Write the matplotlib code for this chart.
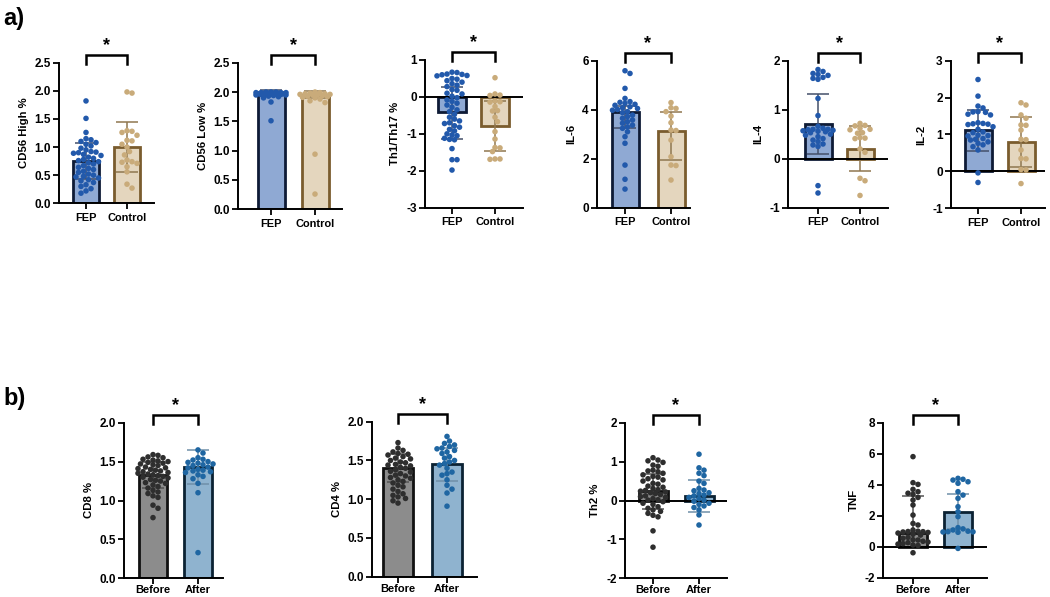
import numpy as np
import matplotlib
matplotlib.use("Agg")
import matplotlib.pyplot as plt
from matplotlib.transforms import blended_transform_factory

plt.rcParams['font.family'] = ['Liberation Sans', 'DejaVu Sans']
plt.rcParams['font.weight'] = 'bold'
plt.rcParams['axes.unicode_minus'] = False

# ---------------- data ----------------
cd56h_fep = [1.82, 1.51, 1.26, 1.15, 1.13, 1.10, 1.08, 1.05, 1.02, 0.98, 0.95, 0.92, 0.91, 0.90, 0.89,
             0.87, 0.85, 0.82, 0.80, 0.78, 0.76, 0.74, 0.72, 0.70, 0.67, 0.64, 0.62, 0.60, 0.57, 0.55,
             0.52, 0.50, 0.48, 0.47, 0.45, 0.42, 0.40, 0.37, 0.33, 0.30, 0.26, 0.22, 0.18]
cd56h_ctrl = [1.98, 1.96, 1.29, 1.28, 1.26, 1.21, 1.12, 1.11, 1.05, 1.00, 0.92, 0.86, 0.77, 0.74, 0.73,
              0.71, 0.65, 0.56, 0.34, 0.27]
cd56h_mean = [0.75, 1.00]
cd56h_err = [[0.32, 0.44], [0.32, 0.44]]

cd56l_fep = [2.00, 2.00, 2.00, 1.99, 1.99, 1.99, 1.99, 1.98, 1.98, 1.98, 1.98, 1.97, 1.97, 1.97, 1.97,
             1.96, 1.96, 1.96, 1.95, 1.95, 1.94, 1.93, 1.92, 1.90, 1.83, 1.51]
cd56l_ctrl = [2.00, 1.99, 1.98, 1.97, 1.97, 1.96, 1.96, 1.95, 1.95, 1.94, 1.93, 1.92, 1.91, 1.90, 1.88,
              1.85, 1.82, 0.94, 0.26]
cd56l_mean = [1.98, 1.95]
cd56l_err = [[0.05, 0.06], [0.05, 0.06]]

th1_fep = [0.67, 0.66, 0.62, 0.61, 0.60, 0.58, 0.57, 0.50, 0.48, 0.44, 0.40, 0.36, 0.32, 0.28, 0.20,
           0.18, 0.10, 0.08, 0.02, -0.02, -0.08, -0.12, -0.17, -0.22, -0.28, -0.35, -0.40, -0.47, -0.55,
           -0.60, -0.65, -0.70, -0.72, -0.78, -0.82, -0.88, -0.92, -1.00, -1.03, -1.05, -1.12, -1.15,
           -1.16, -1.40, -1.70, -1.70, -1.98]
th1_ctrl = [0.52, 0.08, 0.05, 0.04, -0.11, -0.13, -0.14, -0.26, -0.37, -0.38, -0.55, -0.67, -0.94,
            -1.14, -1.37, -1.38, -1.48, -1.68, -1.68, -1.69]
th1_mean = [-0.42, -0.78]
th1_err = [[0.73, 0.68], [0.70, 0.68]]

il6_fep = [5.59, 5.48, 4.87, 4.46, 4.33, 4.30, 4.26, 4.22, 4.18, 4.12, 4.08, 4.05, 4.01, 3.98, 3.92,
           3.88, 3.78, 3.72, 3.65, 3.58, 3.51, 3.45, 3.37, 3.30, 3.24, 3.10, 2.90, 2.63, 1.74, 1.16, 0.76]
il6_ctrl = [4.29, 4.08, 4.05, 3.92, 3.74, 3.47, 3.17, 3.15, 2.76, 2.08, 1.74, 1.72, 1.13]
il6_mean = [3.92, 3.12]
il6_err = [[0.65, 1.17], [0.25, 0.80]]

il4_fep = [1.82, 1.78, 1.74, 1.72, 1.70, 1.66, 1.64, 1.62, 1.23, 0.88, 0.66, 0.62, 0.60, 0.60, 0.59,
           0.58, 0.57, 0.56, 0.55, 0.53, 0.50, 0.48, 0.45, 0.41, 0.38, 0.35, 0.30, 0.28, 0.25, -0.55, -0.70]
il4_ctrl = [0.72, 0.68, 0.67, 0.62, 0.60, 0.59, 0.53, 0.52, 0.43, 0.42, 0.41, 0.20, 0.13, -0.40,
            -0.45, -0.75]
il4_mean = [0.71, 0.20]
il4_err = [[0.61, 0.46], [0.61, 0.46]]

il2_fep = [2.49, 2.04, 1.77, 1.72, 1.62, 1.61, 1.60, 1.55, 1.53, 1.32, 1.30, 1.29, 1.28, 1.27, 1.21,
           1.14, 1.07, 1.05, 0.98, 0.97, 0.96, 0.89, 0.87, 0.85, 0.80, 0.76, 0.72, 0.67, 0.58, -0.04, -0.30]
il2_ctrl = [1.86, 1.80, 1.53, 1.44, 1.26, 1.25, 1.12, 0.87, 0.86, 0.58, 0.35, 0.34, 0.05, 0.04, -0.33]
il2_mean = [1.11, 0.80]
il2_err = [[0.56, 0.67], [0.56, 0.67]]

cd8_before = [1.59, 1.58, 1.56, 1.55, 1.53, 1.52, 1.51, 1.50, 1.49, 1.48, 1.47, 1.46, 1.45, 1.43, 1.42,
              1.41, 1.40, 1.39, 1.38, 1.37, 1.36, 1.35, 1.34, 1.33, 1.32, 1.31, 1.30, 1.29, 1.27, 1.26,
              1.25, 1.23, 1.22, 1.20, 1.18, 1.16, 1.13, 1.11, 1.09, 1.06, 1.04, 0.94, 0.90, 0.78]
cd8_after = [1.65, 1.61, 1.55, 1.53, 1.52, 1.50, 1.49, 1.48, 1.47, 1.46, 1.45, 1.43, 1.42, 1.40, 1.39,
             1.38, 1.37, 1.36, 1.33, 1.31, 1.28, 1.22, 1.10, 0.33]
cd8_mean = [1.33, 1.43]
cd8_err = [[0.17, 0.22], [0.17, 0.22]]

cd4_before = [1.73, 1.66, 1.63, 1.61, 1.59, 1.58, 1.57, 1.55, 1.53, 1.52, 1.50, 1.48, 1.47, 1.45, 1.44,
              1.43, 1.41, 1.40, 1.38, 1.36, 1.35, 1.33, 1.31, 1.30, 1.28, 1.27, 1.25, 1.23, 1.21, 1.18,
              1.16, 1.13, 1.10, 1.07, 1.05, 1.03, 1.01, 0.98, 0.95]
cd4_after = [1.81, 1.75, 1.72, 1.70, 1.68, 1.66, 1.65, 1.63, 1.61, 1.59, 1.55, 1.53, 1.50, 1.48, 1.46,
             1.44, 1.40, 1.35, 1.33, 1.31, 1.25, 1.18, 1.13, 1.08, 0.91]
cd4_mean = [1.40, 1.45]
cd4_err = [[0.18, 0.21], [0.18, 0.21]]

th2_before = [1.10, 1.04, 1.02, 0.98, 0.91, 0.88, 0.78, 0.76, 0.74, 0.70, 0.66, 0.62, 0.60, 0.56, 0.53,
              0.50, 0.44, 0.42, 0.37, 0.34, 0.31, 0.28, 0.26, 0.24, 0.22, 0.20, 0.18, 0.15, 0.12, 0.10,
              0.08, 0.05, 0.02, 0.01, -0.03, -0.07, -0.10, -0.16, -0.20, -0.24, -0.28, -0.33, -0.38,
              -0.42, -0.78, -1.20]
th2_after = [1.19, 0.84, 0.78, 0.70, 0.64, 0.50, 0.44, 0.31, 0.27, 0.25, 0.20, 0.18, 0.14, 0.12, 0.08,
             0.05, 0.01, -0.02, -0.07, -0.10, -0.14, -0.18, -0.24, -0.37, -0.63]
th2_mean = [0.24, 0.11]
th2_err = [[0.45, 0.41], [0.45, 0.41]]

tnf_before = [5.81, 4.13, 4.02, 3.70, 3.55, 3.45, 3.38, 3.18, 3.01, 2.69, 2.04, 1.50, 1.40, 1.08, 1.00,
              0.98, 0.97, 0.95, 0.92, 0.88, 0.80, 0.75, 0.60, 0.54, 0.45, 0.43, 0.35, 0.30, 0.26, 0.20,
              0.17, 0.11, 0.08, -0.39]
tnf_after = [4.41, 4.35, 4.30, 4.19, 4.09, 3.55, 3.33, 3.12, 2.58, 2.26, 1.94, 1.23, 1.15, 1.08, 1.00,
             0.97, 0.96, 0.95, 0.93, -0.11]
tnf_mean = [0.90, 2.25]
tnf_err = [[0.9, 1.12], [2.37, 1.12]]

groups_a = ["FEP", "Control"]
groups_b = ["Before", "After"]

# ---------------- styles ----------------
sty_a = dict(fill=["#8fa9d3", "#e4d6be"], edge=["#0e1b36", "#7a5c2e"],
             dot=["#2259ab", "#c9ab7a"], err=["#44506a", "#8f7750"], xfs=7.9, xpad=3)
sty_b = dict(fill=["#8c8c8c", "#8fb3cf"], edge=["#111111", "#0b2233"],
             dot=["#2e2e2e", "#1f66a2"], err=["#555555", "#6f8fa8"], xfs=8.0, xpad=1)

W, H = 1050, 597
fig = plt.figure(figsize=(W / 100, H / 100), dpi=100)

# panel layout in pixels: left, right, top, bottom, center0, center1, barwidth
panels = [
    (cd56h_fep, cd56h_ctrl, cd56h_mean, cd56h_err, "CD56 High %", (0, 2.5), np.arange(0, 2.51, 0.5), "%.1f", groups_a, sty_a,
     (59, 154, 62.7, 203.3, 86, 127, 26), False),
    (cd56l_fep, cd56l_ctrl, cd56l_mean, cd56l_err, "CD56 Low %", (0, 2.5), np.arange(0, 2.51, 0.5), "%.1f", groups_a, sty_a,
     (238, 342, 62.7, 209.3, 271, 315, 27), False),
    (th1_fep, th1_ctrl, th1_mean, th1_err, "Th1/Th17 %", (-3, 1), np.arange(-3, 1.1, 1), "%d", groups_a, sty_a,
     (425, 523, 60.0, 207.7, 452, 495, 28), True),
    (il6_fep, il6_ctrl, il6_mean, il6_err, "IL-6", (0, 6), np.arange(0, 6.1, 2), "%d", groups_a, sty_a,
     (597, 690, 60.7, 207.7, 625, 671, 27), False),
    (il4_fep, il4_ctrl, il4_mean, il4_err, "IL-4", (-1, 2), np.arange(-1, 2.1, 1), "%d", groups_a, sty_a,
     (788, 888, 60.7, 207.7, 818, 860, 27), True),
    (il2_fep, il2_ctrl, il2_mean, il2_err, "IL-2", (-1, 3), np.arange(-1, 3.1, 1), "%d", groups_a, sty_a,
     (951, 1045, 60.7, 208.3, 978, 1021, 27), True),
    (cd8_before, cd8_after, cd8_mean, cd8_err, "CD8 %", (0, 2.0), np.arange(0, 2.01, 0.5), "%.1f", groups_b, sty_b,
     (124, 223, 422.7, 578.3, 153, 198, 28), False),
    (cd4_before, cd4_after, cd4_mean, cd4_err, "CD4 %", (0, 2.0), np.arange(0, 2.01, 0.5), "%.1f", groups_b, sty_b,
     (372, 477, 421.7, 576.7, 398, 447, 30), False),
    (th2_before, th2_after, th2_mean, th2_err, "Th2 %", (-2, 2), np.arange(-2, 2.1, 1), "%d", groups_b, sty_b,
     (625, 727, 422.7, 578.3, 653, 699, 29), True),
    (tnf_before, tnf_after, tnf_mean, tnf_err, "TNF", (-2, 8), np.arange(-2, 8.1, 2), "%d", groups_b, sty_b,
     (883, 987, 422.7, 577.7, 913, 958, 28), True),
]


def swarm_offsets(ax, xc, vals, dot_px, half_w_px):
    pts = ax.transData.transform(np.column_stack([np.full(len(vals), xc), vals]))
    ys = pts[:, 1]
    order = np.argsort(-np.asarray(vals))
    step = dot_px / 2.0
    n = int(half_w_px // step)
    cands = [0.0]
    for k in range(1, n + 1):
        cands += [k * step, -k * step]
    placed = []
    offs = np.zeros(len(vals))
    for i in order:
        best, best_d, best_c = None, -1, 0.0
        for c in cands:
            if placed:
                d = min(np.hypot(c - px, ys[i] - py) for px, py in placed)
            else:
                d = 1e9
            if d >= dot_px * 0.95:
                best = c
                break
            if d > best_d:
                best_d, best_c = d, c
        if best is None:
            best = best_c
        placed.append((best, ys[i]))
        offs[i] = best
    return offs


for (g0, g1, means, err, ylab, ylim, ticks, fmt, gnames, sty, lay, zero_line) in panels:
    L, R, T, B, c0, c1, bw = lay
    unit = c1 - c0
    ax = fig.add_axes([L / W, 1 - B / H, (R - L) / W, (B - T) / H])
    ax.set_xlim((L - c0) / unit, (R - c0) / unit)
    ax.set_ylim(*ylim)
    for s in ["top", "right"]:
        ax.spines[s].set_visible(False)
    for s in ["left", "bottom"]:
        ax.spines[s].set_linewidth(1.4)
        ax.spines[s].set_color("black")
    ax.set_yticks(ticks)
    ax.set_yticklabels([fmt % t for t in ticks])
    ax.set_xticks([0, 1])
    ax.set_xticklabels(gnames)
    ax.tick_params(axis="both", length=4, width=1.3, pad=2)
    ax.tick_params(axis="y", labelsize=8.5)
    ax.tick_params(axis="x", labelsize=sty["xfs"], pad=sty["xpad"])
    for lbl in ax.get_xticklabels() + ax.get_yticklabels():
        lbl.set_fontweight("bold")
    ax.set_ylabel(ylab, fontsize=8.2, fontweight="bold", labelpad=4)

    width = bw / unit
    for i in range(2):
        ax.bar(i, means[i], width=width, color=sty["fill"][i], edgecolor=sty["edge"][i],
               linewidth=2.0, zorder=2)
        ax.errorbar(i, means[i], yerr=[[err[0][i]], [err[1][i]]], fmt="none", ecolor=sty["err"][i],
                    elinewidth=1.1, capsize=8, capthick=1.1, zorder=3)
    if zero_line:
        ax.axhline(0, color="black", linewidth=1.4, zorder=4)

    for i, vals in enumerate([g0, g1]):
        offs = swarm_offsets(ax, i, vals, 5.0, bw * 0.58)
        xs = i + offs / unit
        ax.scatter(xs, vals, s=16, color=sty["dot"][i], edgecolors="none", zorder=5, clip_on=False)

    # significance bracket
    ah = B - T
    trans = blended_transform_factory(ax.transData, ax.transAxes)
    ytop = 1 + 8 / ah
    ybot = 1 - 1 / ah
    ax.plot([0, 0, 1, 1], [ybot, ytop, ytop, ybot], color="black", lw=1.8, transform=trans,
            clip_on=False, solid_joinstyle="miter")
    ax.text(0.5, ytop + 1 / ah, "*", transform=trans, ha="center", va="bottom",
            fontsize=13, fontweight="bold")

fig.text(3 / W, 1 - 18 / H, "a)", fontsize=17, fontweight="bold", va="center", ha="left")
fig.text(3 / W, 1 - 398 / H, "b)", fontsize=17, fontweight="bold", va="center", ha="left")

fig.savefig("out.png", dpi=100)
